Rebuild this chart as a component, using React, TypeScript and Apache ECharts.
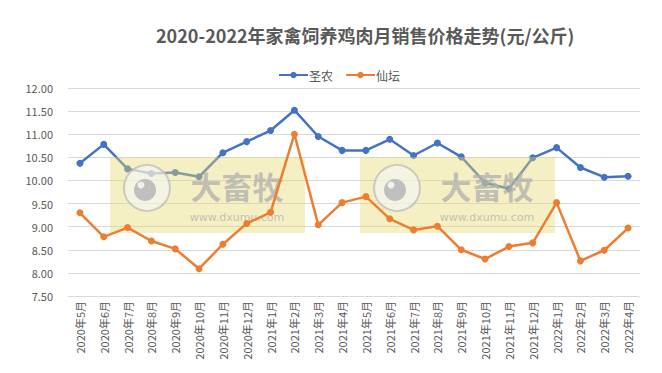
import React, { useEffect, useRef } from "react";
import * as echarts from "echarts";

const categories = [
  "2020年5月", "2020年6月", "2020年7月", "2020年8月", "2020年9月", "2020年10月",
  "2020年11月", "2020年12月", "2021年1月", "2021年2月", "2021年3月", "2021年4月",
  "2021年5月", "2021年6月", "2021年7月", "2021年8月", "2021年9月", "2021年10月",
  "2021年11月", "2021年12月", "2022年1月", "2022年2月", "2022年3月", "2022年4月",
];
const shengnong = [
  10.37, 10.78, 10.25, 10.15, 10.17, 10.08, 10.6, 10.84, 11.08, 11.52, 10.95, 10.65,
  10.65, 10.89, 10.54, 10.81, 10.51, 9.95, 9.82, 10.49, 10.71, 10.28, 10.07, 10.09,
];
const xiantan = [
  9.3, 8.78, 8.98, 8.69, 8.52, 8.09, 8.62, 9.07, 9.31, 11.0, 9.04, 9.52,
  9.65, 9.17, 8.93, 9.01, 8.5, 8.3, 8.57, 8.65, 9.52, 8.26, 8.49, 8.97,
];
const seriesNames = ["圣农", "仙坛"];
const titleText = "2020-2022年家禽饲养鸡肉月销售价格走势(元/公斤)";

function watermark(dx: number) {
  const z = 3;
  return {
    type: "group",
    x: dx,
    y: 157,
    z,
    children: [
      { type: "rect", shape: { x: 0, y: 0, width: 195, height: 76 }, style: { fill: "rgba(230,217,105,0.4)" }, z },
      { type: "circle", shape: { cx: 37, cy: 31, r: 23 }, style: { fill: "rgba(245,245,245,0.6)", stroke: "rgba(190,190,190,0.8)", lineWidth: 2 }, z },
      { type: "circle", shape: { cx: 35, cy: 33, r: 11 }, style: { fill: "rgba(185,185,185,0.9)" }, z },
      { type: "circle", shape: { cx: 31, cy: 28, r: 3.5 }, style: { fill: "rgba(245,245,245,0.9)" }, z },
      { type: "text", x: 127, y: 28, style: { text: "大畜牧", fill: "rgba(175,175,175,0.75)", font: "bold 31px 'Noto Sans CJK SC'", lineHeight: 32, align: "center", verticalAlign: "middle" }, z },
      { type: "text", x: 127, y: 60, style: { text: "www.dxumu.com", fill: "rgba(175,175,175,0.75)", font: "11px 'DejaVu Sans'", lineHeight: 12, align: "center", verticalAlign: "middle" }, z },
    ],
  };
}

export default function App() {
  const ref = useRef<HTMLDivElement>(null);
  useEffect(() => {
    document.body.style.margin = "0";
    const chart = echarts.init(ref.current!, undefined, { renderer: "svg" });
    const font = "'Microsoft YaHei', 'Noto Sans CJK SC', sans-serif";
    chart.setOption({
      animation: false,
      backgroundColor: "#ffffff",
      title: {
        text: titleText,
        left: 151,
        top: 21,
        textStyle: { fontSize: 18, fontWeight: "bold", color: "#595959", fontFamily: font },
      },
      legend: {
        data: seriesNames,
        left: 273,
        top: 64,
        itemWidth: 29,
        itemHeight: 8,
        itemGap: 12,
        textStyle: { fontSize: 12, color: "#595959", fontFamily: font, padding: [0, 0, 0, -4] },
      },
      grid: { left: 68, right: 22, top: 88, bottom: 77, containLabel: false },
      xAxis: {
        type: "category",
        data: categories,
        boundaryGap: true,
        axisLine: { lineStyle: { color: "#d9d9d9" } },
        axisTick: { show: false },
        axisLabel: { rotate: 90, fontSize: 11, color: "#595959", fontFamily: font, margin: 5, interval: 0 },
      },
      yAxis: {
        type: "value",
        min: 7.5,
        max: 12,
        interval: 0.5,
        axisLine: { show: false },
        axisTick: { show: false },
        splitLine: { lineStyle: { color: "#d9d9d9" } },
        axisLabel: { fontSize: 11, color: "#595959", fontFamily: font, margin: 15, formatter: (v: number) => v.toFixed(2) },
      },
      graphic: [watermark(110), watermark(360)],
      series: [
        {
          name: seriesNames[0],
          type: "line",
          data: shengnong,
          z: 2,
          symbol: "circle",
          symbolSize: 7,
          lineStyle: { width: 2.5, color: "#4472C4" },
          itemStyle: { color: "#4472C4" },
        },
        {
          name: seriesNames[1],
          type: "line",
          data: xiantan,
          z: 4,
          symbol: "circle",
          symbolSize: 7,
          lineStyle: { width: 2.5, color: "#ED7D31" },
          itemStyle: { color: "#ED7D31" },
        },
      ],
    });
    return () => chart.dispose();
  }, []);
  return <div ref={ref} style={{ width: 662, height: 373 }} />;
}
